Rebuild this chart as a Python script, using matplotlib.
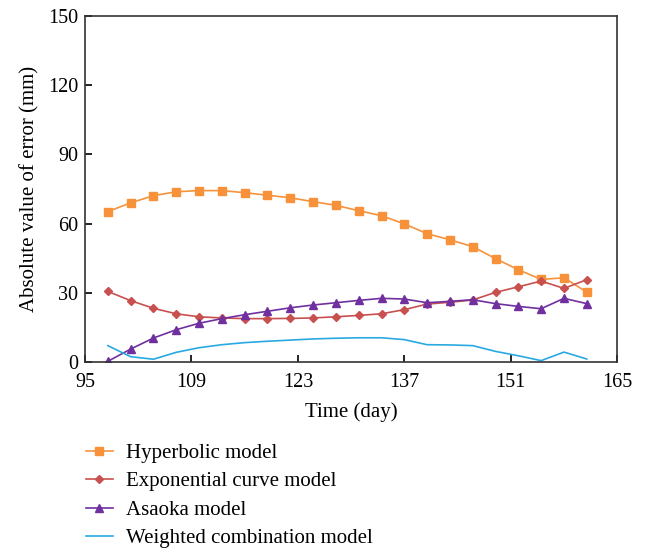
import matplotlib.pyplot as plt

plt.rcParams['font.family'] = ['Liberation Serif', 'DejaVu Serif']

days = [98, 101, 104, 107, 110, 113, 116, 119, 122, 125, 128,
        131, 134, 137, 140, 143, 146, 149, 152, 155, 158, 161]

hyperbolic = [65.2, 69.0, 72.1, 73.8, 74.3, 74.3, 73.4, 72.3, 71.2, 69.5, 67.9,
              65.6, 63.4, 59.9, 55.6, 53.0, 50.0, 44.8, 40.0, 35.8, 36.5, 30.3]
exponential = [30.6, 26.6, 23.3, 20.9, 19.6, 19.1, 18.8, 18.8, 18.9, 19.1, 19.6,
               20.2, 20.9, 22.7, 25.1, 25.9, 26.9, 30.2, 32.6, 35.1, 31.9, 35.7]
asaoka = [0.3, 5.6, 10.4, 14.0, 16.8, 18.8, 20.5, 22.0, 23.5, 24.7, 25.7,
          26.7, 27.6, 27.3, 25.7, 26.3, 27.0, 25.3, 24.1, 23.1, 27.6, 25.3]
weighted = [7.1, 2.3, 1.2, 4.2, 6.2, 7.5, 8.4, 9.0, 9.5, 10.0, 10.3,
            10.5, 10.5, 9.7, 7.5, 7.4, 7.1, 4.6, 2.7, 0.6, 4.3, 1.3]

labels = ['Hyperbolic model', 'Exponential curve model', 'Asaoka model',
          'Weighted combination model']

fig = plt.figure(figsize=(6.49, 5.51), dpi=100)
ax = fig.add_axes([0.131, 0.343, 0.820, 0.628])

ax.plot(days, hyperbolic, color='#f7923a', lw=1.2, marker='s', ms=6, label=labels[0])
ax.plot(days, exponential, color='#c8504f', lw=1.2, marker='D', ms=4, label=labels[1])
ax.plot(days, asaoka, color='#7030a0', lw=1.2, marker='^', ms=6, label=labels[2])
ax.plot(days, weighted, color='#29a9e1', lw=1.2, label=labels[3])

ax.set_xlim(95, 165)
ax.set_ylim(0, 150)
ax.set_xticks([95, 109, 123, 137, 151, 165])
ax.set_yticks([0, 30, 60, 90, 120, 150])
ax.tick_params(direction='in', length=5, width=1.2, labelsize=14.5)
ax.tick_params(axis='x', pad=8)
ax.tick_params(axis='y', pad=5)
for s in ax.spines.values():
    s.set_linewidth(1.2)
    s.set_color('#333333')
ax.set_xlabel('Time (day)', fontsize=15, labelpad=7)
ax.set_ylabel('Absolute value of error (mm)', fontsize=15, labelpad=6)

ax.legend(loc='upper left', bbox_to_anchor=(0.132, 0.195), bbox_transform=fig.transFigure,
          frameon=False, fontsize=15, borderaxespad=0, borderpad=0,
          handlelength=1.3, handletextpad=0.62, labelspacing=0.42)

fig.savefig('out.png', dpi=100)
